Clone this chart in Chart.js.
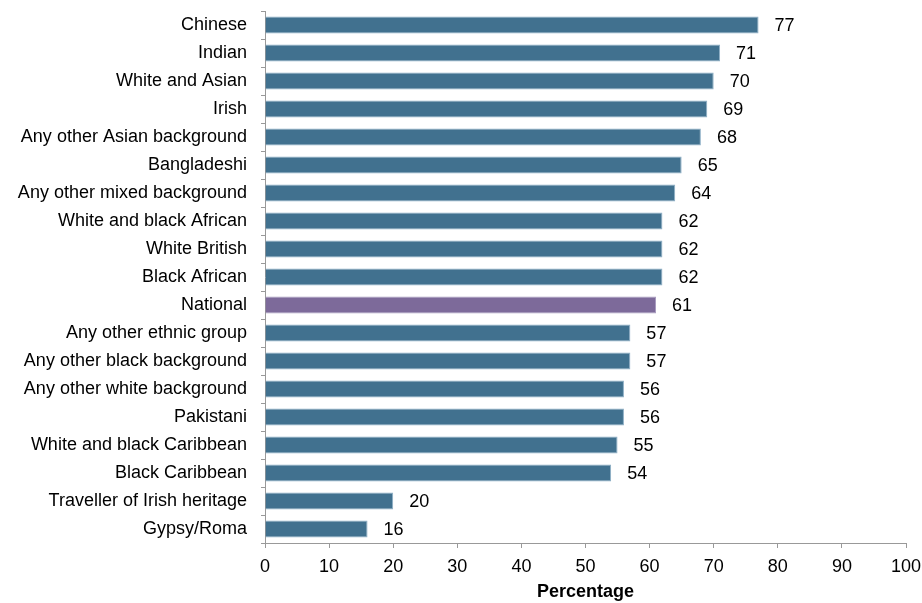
<!DOCTYPE html>
<html><head><meta charset="utf-8">
<script src="https://cdn.jsdelivr.net/npm/chart.js@4"></script>
<style>html,body{margin:0;padding:0;background:#fff}</style>
</head><body><canvas id="c" width="922" height="603"></canvas>
<script>
const categories = ["Chinese","Indian","White and Asian","Irish","Any other Asian background","Bangladeshi","Any other mixed background","White and black African","White British","Black African","National","Any other ethnic group","Any other black background","Any other white background","Pakistani","White and black Caribbean","Black Caribbean","Traveller of Irish heritage","Gypsy/Roma"];
const values = [77,71,70,69,68,65,64,62,62,62,61,57,57,56,56,55,54,20,16];
const xTicks = [0,10,20,30,40,50,60,70,80,90,100];
const highlight = "National";
const FONT = "'Liberation Sans', Arial, sans-serif";
const FS = 18;

const colors = categories.map(c => c === highlight ? "#7D6A9A" : "#41718F");
const borders = categories.map(c => c === highlight ? "#A99CC0" : "#8DAFC6");

const labelPlugin = {
  id: 'vals',
  afterDatasetsDraw(chart) {
    const ctx = chart.ctx;
    const meta = chart.getDatasetMeta(0);
    ctx.save();
    ctx.font = FS + "px " + FONT;
    ctx.fillStyle = "#000";
    ctx.textAlign = "left";
    ctx.textBaseline = "middle";
    meta.data.forEach((bar, i) => {
      ctx.fillText(String(values[i]), bar.x + 16, bar.y + 1);
    });
    ctx.restore();
  }
};

new Chart(document.getElementById('c'), {
  type: 'bar',
  data: { labels: categories, datasets: [{ data: values, backgroundColor: colors, borderColor: borders, borderWidth: {top:1,bottom:1,right:1,left:0}, barPercentage: 0.6, categoryPercentage: 1.0 }] },
  options: {
    indexAxis: 'y',
    responsive: false,
    animation: false,
    layout: { padding: { top: 11, right: 16, left: 0, bottom: 0 } },
    plugins: { legend: { display: false }, tooltip: { enabled: false } },
    scales: {
      x: {
        min: 0, max: 100,
        afterBuildTicks(s) { s.ticks = xTicks.map(v => ({ value: v })); },
        afterFit(s) { s.height = 60; s.paddingLeft = 0; s.paddingRight = 0; },
        grid: { drawOnChartArea: false, drawTicks: true, tickLength: 5, color: "#999", tickColor: "#999" },
        border: { display: true, color: "#999", width: 1 },
        ticks: { font: { family: FONT, size: FS }, color: "#000", padding: 8, maxRotation: 0 },
        title: { display: true, text: "Percentage", font: { family: FONT, size: FS, weight: 'bold' }, color: "#000", padding: { top: 2, bottom: 0 } }
      },
      y: {
        afterFit(s) { s.width = 265; s.paddingTop = 0; s.paddingBottom = 0; },
        grid: { drawOnChartArea: false, drawTicks: true, tickLength: 4, offset: true, color: "#999", tickColor: "#999" },
        border: { display: true, color: "#999", width: 1 },
        ticks: { font: { family: FONT, size: FS }, color: "#000", padding: 14, autoSkip: false }
      }
    }
  },
  plugins: [labelPlugin]
});
</script>
</body></html>
